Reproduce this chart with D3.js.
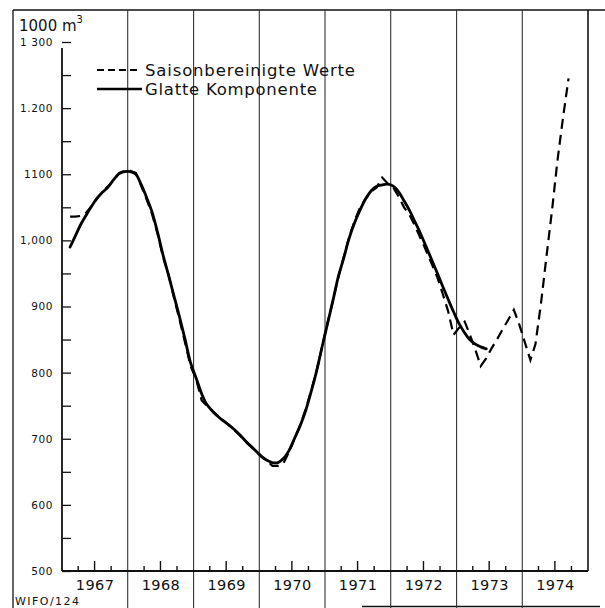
<!DOCTYPE html>
<html><head><meta charset="utf-8">
<script src="https://cdn.jsdelivr.net/npm/d3@7"></script>
<style>html,body{margin:0;padding:0;background:#fff;}svg{display:block;}</style>
</head><body>
<svg id="chart" width="605" height="608"></svg>
<script>
// ---- data ----
const years = [1967, 1968, 1969, 1970, 1971, 1972, 1973, 1974];
const firstMonth = "1967-02"; // both series start in February 1967, monthly values
// Saisonbereinigte Werte (1000 m3), Feb 1967 - Sep 1974
const seasonAdjusted = [
  1036,1036,1037,1042,1052,1063,1074,1082,1091,1102,1105,
  1105,1102,1083,1062,1040,1010,975,948,912,880,845,810,
  790,758,750,742,735,728,721,713,705,696,688,680,
  672,666,659,659,663,680,700,720,744,772,802,838,
  875,910,943,975,1005,1030,1050,1063,1074,1080,1095,1086,
  1080,1066,1050,1038,1022,1003,985,965,945,920,893,857,
  868,877,858,835,810,822,837,851,866,880,895,873,
  846,819,843,905,975,1045,1120,1185,1245
];
// Glatte Komponente (1000 m3), Feb 1967 - Jun 1973
const smoothComponent = [
  990,1006,1024,1038,1052,1064,1073,1081,1092,1101,1104,
  1104,1100,1085,1065,1043,1012,978,947,915,884,850,815,
  792,768,752,742,734,727,721,714,706,697,689,681,
  673,667,664,664,670,682,700,719,742,770,802,838,
  874,910,944,973,1003,1027,1046,1063,1075,1082,1084,1085,
  1082,1073,1060,1045,1028,1010,991,971,951,931,911,892,
  874,860,850,843,839,836
];
const yTickValues = [500, 600, 700, 800, 900, 1000, 1100, 1200, 1300];
const yTickLabels = ["500", "600", "700", "800", "900", "1,000", "1100", "1.200", "1 300"];
const yMinorValues = [550, 650, 750, 850, 950, 1050, 1150, 1250];
const legendLabels = ["Saisonbereinigte Werte", "Glatte Komponente"];
const yUnit = "1000 m";
const sourceLabel = "WIFO/124";

// ---- setup ----
const svg = d3.select("#chart");
const font = "'DejaVu Sans', 'Liberation Sans', sans-serif";
const x = d3.scaleTime()
  .domain([new Date(1967, 0, 1), new Date(1975, 0, 1)])
  .range([62, 588]);
const y = d3.scaleLinear().domain([500, 1300]).range([571, 42]);

const start = d3.timeParse("%Y-%m")(firstMonth);
const monthDate = i => { const d = d3.timeMonth.offset(start, i); d.setDate(15); return d; };
const dashedData = seasonAdjusted.map((v, i) => ({date: monthDate(i), value: v}));
const solidData = smoothComponent.map((v, i) => ({date: monthDate(i), value: v}));

// ---- frame ----
svg.append("line").attr("x1", 13).attr("x2", 605).attr("y1", 10).attr("y2", 10)
  .attr("stroke", "#111").attr("stroke-width", 1.5);
svg.append("line").attr("x1", 13).attr("x2", 13).attr("y1", 10).attr("y2", 608)
  .attr("stroke", "#111").attr("stroke-width", 1.3);
svg.append("line").attr("x1", 362).attr("x2", 600).attr("y1", 606.5).attr("y2", 606.5)
  .attr("stroke", "#111").attr("stroke-width", 1.5);

// year gridlines
const bounds = years.slice(1).map(yr => new Date(yr, 0, 1));
svg.append("g").selectAll("line").data(bounds).join("line")
  .attr("x1", d => x(d)).attr("x2", d => x(d))
  .attr("y1", 10).attr("y2", 608)
  .attr("stroke", "#333").attr("stroke-width", 1.1);
// right border
svg.append("line").attr("x1", x(new Date(1975,0,1))).attr("x2", x(new Date(1975,0,1)))
  .attr("y1", 10).attr("y2", y(500))
  .attr("stroke", "#111").attr("stroke-width", 1.6);

// ---- y axis ----
const yAxis = d3.axisLeft(y).tickValues(yTickValues).tickSize(-9).tickPadding(9)
  .tickFormat((d, i) => yTickLabels[i]);
const gy = svg.append("g").attr("transform", "translate(62,0)").call(yAxis);
gy.select(".domain").remove();
gy.selectAll(".tick line").attr("stroke", "#111").attr("stroke-width", 1.3);
gy.selectAll(".tick text").attr("font-family", font).attr("font-size", 10.5)
  .attr("fill", "#111").attr("letter-spacing", 0.6);
const gyMinor = svg.append("g").attr("transform", "translate(62,0)")
  .call(d3.axisLeft(y).tickValues(yMinorValues).tickSize(-9).tickFormat(""));
gyMinor.select(".domain").remove();
gyMinor.selectAll(".tick line").attr("stroke", "#111").attr("stroke-width", 1.3);
svg.append("line").attr("x1", 62).attr("x2", 62).attr("y1", 48).attr("y2", y(500))
  .attr("stroke", "#111").attr("stroke-width", 1.8);

// ---- x axis ----
svg.append("line").attr("x1", 62).attr("x2", x(new Date(1975,0,1)))
  .attr("y1", y(500)).attr("y2", y(500))
  .attr("stroke", "#111").attr("stroke-width", 1.8);
const quarterTicks = [];
years.forEach(yr => {
  quarterTicks.push({d: new Date(yr, 3, 1), len: 5});
  quarterTicks.push({d: new Date(yr, 6, 1), len: 10});
  quarterTicks.push({d: new Date(yr, 9, 1), len: 5});
});
svg.append("g").selectAll("line").data(quarterTicks).join("line")
  .attr("x1", d => x(d.d)).attr("x2", d => x(d.d))
  .attr("y1", y(500)).attr("y2", d => y(500) - d.len)
  .attr("stroke", "#111").attr("stroke-width", 1.4);
const gx = svg.append("g").attr("transform", `translate(0,${y(500)})`)
  .call(d3.axisBottom(x).tickValues(years.map(yr => new Date(yr, 6, 1)))
    .tickSize(0).tickPadding(9).tickFormat(d3.timeFormat("%Y")));
gx.select(".domain").remove();
gx.selectAll(".tick text").attr("font-family", font).attr("font-size", 14.5)
  .attr("fill", "#111").attr("letter-spacing", 0.4);

// ---- lines ----
const lineGen = d3.line().x(d => x(d.date)).y(d => y(d.value));
svg.append("path").datum(dashedData)
  .attr("d", lineGen.curve(d3.curveLinear))
  .attr("fill", "none").attr("stroke", "#000").attr("stroke-width", 2.2)
  .attr("stroke-dasharray", "10,6");
svg.append("path").datum(solidData)
  .attr("d", d3.line().x(d => x(d.date)).y(d => y(d.value)).curve(d3.curveCatmullRom)(solidData))
  .attr("fill", "none").attr("stroke", "#000").attr("stroke-width", 2.8)
  .attr("stroke-linecap", "round");

// ---- legend ----
const lg = svg.append("g");
lg.append("line").attr("x1", 97).attr("x2", 141).attr("y1", 70).attr("y2", 70)
  .attr("stroke", "#000").attr("stroke-width", 1.8).attr("stroke-dasharray", "7,4");
lg.append("line").attr("x1", 97).attr("x2", 142).attr("y1", 89).attr("y2", 89)
  .attr("stroke", "#000").attr("stroke-width", 2.4);
lg.append("text").attr("x", 145).attr("y", 76).text(legendLabels[0])
  .attr("font-family", font).attr("font-size", 16.5).attr("fill", "#111")
  .attr("textLength", 210).attr("lengthAdjust", "spacing");
lg.append("text").attr("x", 145).attr("y", 95).text(legendLabels[1])
  .attr("font-family", font).attr("font-size", 16.5).attr("fill", "#111")
  .attr("textLength", 172).attr("lengthAdjust", "spacing");

// ---- unit label ----
const ut = svg.append("text").attr("x", 19).attr("y", 31)
  .attr("font-family", font).attr("font-size", 15).attr("fill", "#111");
ut.append("tspan").text(yUnit);
ut.append("tspan").attr("dy", -8).attr("font-size", 10).text("3");

// ---- source ----
svg.append("text").attr("x", 15).attr("y", 605).text(sourceLabel)
  .attr("font-family", font).attr("font-size", 11).attr("fill", "#111")
  .attr("textLength", 64).attr("lengthAdjust", "spacing");
</script>
</body></html>
